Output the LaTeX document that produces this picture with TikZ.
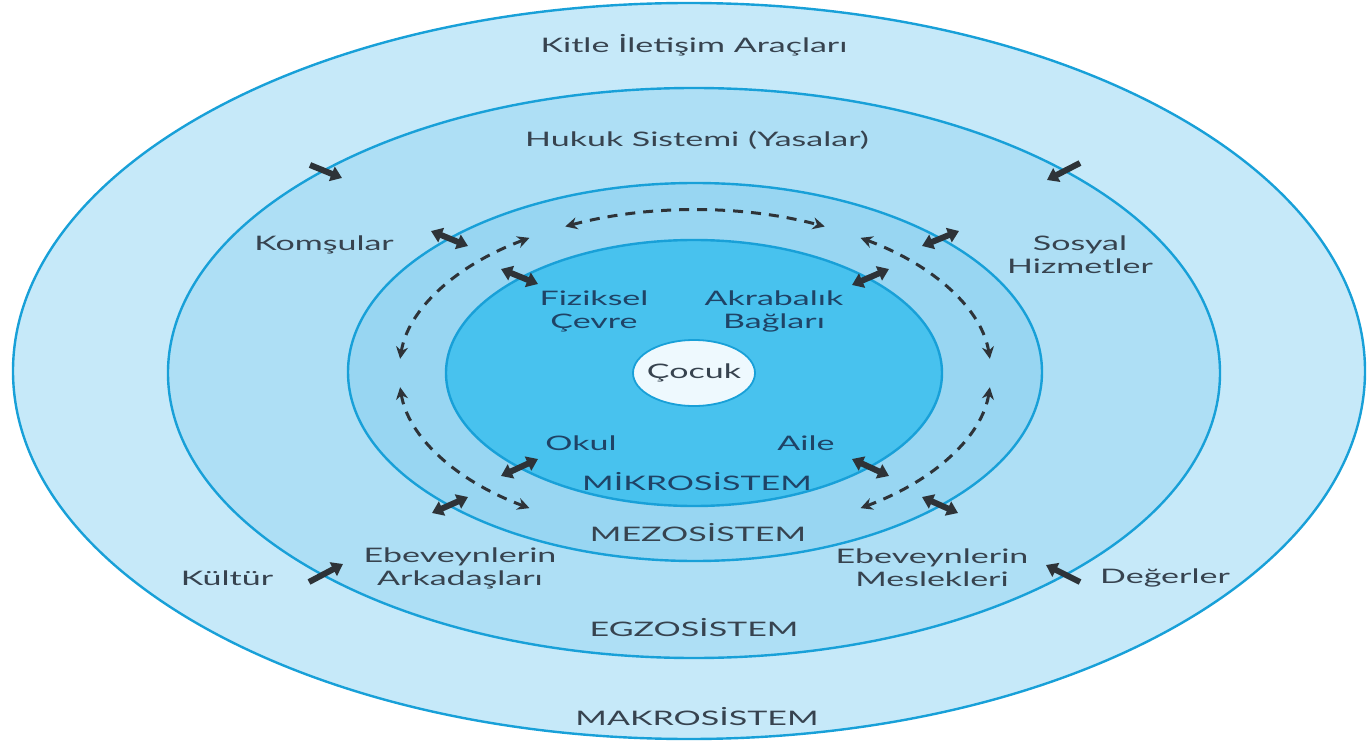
\documentclass[tikz,border=0pt]{standalone}
\usepackage{fontspec}
\setmainfont{Lato}[FakeStretch=1.7]
\usetikzlibrary{arrows.meta}
\definecolor{ringMacro}{HTML}{C6E9F9}
\definecolor{ringExo}{HTML}{AEDFF5}
\definecolor{ringMeso}{HTML}{98D6F2}
\definecolor{ringMicro}{HTML}{48C2EE}
\definecolor{childFill}{HTML}{EEF9FE}
\definecolor{edge}{HTML}{18A0D8}
\definecolor{txt}{HTML}{37434F}
\definecolor{txtin}{HTML}{1F4366}
\definecolor{arr}{HTML}{2E3338}
\begin{document}
\begin{tikzpicture}[x=1pt,y=1pt,
  ring/.style={draw=edge, line width=2.4pt},
  lbl/.style={text=txt, font=\fontsize{20}{23}\selectfont, align=center, inner sep=0pt},
  ilbl/.style={lbl, text=txtin},
  inarrow/.style={line width=6pt, draw=arr, -{Triangle[length=11pt,width=15pt]}},
  twoway/.style={line width=6pt, draw=arr, {Triangle[length=11pt,width=15pt]}-{Triangle[length=11pt,width=15pt]}},
  dasharc/.style={line width=3pt, draw=arr, dash pattern=on 10pt off 8pt, {Stealth[length=12pt,width=12pt]}-{Stealth[length=12pt,width=12pt]}}
]
\useasboundingbox (0,0) rectangle (1369,-741);
\fill[white] (0,0) rectangle (1369,-741);

% rings
\filldraw[ring, fill=ringMacro] (689,-371) ellipse[x radius=676, y radius=368];
\filldraw[ring, fill=ringExo] (694,-373) ellipse[x radius=526, y radius=285];
\filldraw[ring, fill=ringMeso] (695,-372) ellipse[x radius=347, y radius=189];
\filldraw[ring, fill=ringMicro] (694,-373) ellipse[x radius=248, y radius=133];
\filldraw[draw=edge, line width=1.8pt, fill=childFill] (694,-373) ellipse[x radius=61, y radius=33];

% labels
\node[lbl] (kitle) at (694,-45) {Kitle İletişim Araçları};
\node[lbl] (hukuk) at (697,-140) {Hukuk Sistemi (Yasalar)};
\node[lbl] (komsu) at (324,-245) {Komşular};
\node[lbl] (sosyal) at (1080,-255) {Sosyal\\Hizmetler};
\node[ilbl] (fiziksel) at (594,-311) {Fiziksel\\Çevre};
\node[ilbl] (akraba) at (774,-311) {Akrabalık\\Bağları};
\node[lbl] (cocuk) at (694,-373) {Çocuk};
\node[ilbl] (okul) at (581,-443) {Okul};
\node[ilbl] (aile) at (806,-443) {Aile};
\node[ilbl] (mikro) at (697,-482) {MİKROSİSTEM};
\node[lbl] (mezo) at (698,-533) {MEZOSİSTEM};
\node[lbl] (arkadas) at (460,-568) {Ebeveynlerin\\Arkadaşları};
\node[lbl] (meslek) at (932,-568) {Ebeveynlerin\\Meslekleri};
\node[lbl] (kultur) at (227,-578) {Kültür};
\node[lbl] (deger) at (1165,-578) {Değerler};
\node[lbl] (egzo) at (694,-628) {EGZOSİSTEM};
\node[lbl] (makro) at (697,-717) {MAKROSİSTEM};

% one-way arrows from macro to exo
\coordinate (a1s) at (310,-165); \coordinate (a1e) at (342,-178);
\coordinate (a2s) at (1080,-163); \coordinate (a2e) at (1047,-180);
\coordinate (a3s) at (309,-582); \coordinate (a3e) at (343,-564);
\coordinate (a4s) at (1080,-582); \coordinate (a4e) at (1046,-565);
\draw[inarrow] (a1s) -- (a1e);
\draw[inarrow] (a2s) -- (a2e);
\draw[inarrow] (a3s) -- (a3e);
\draw[inarrow] (a4s) -- (a4e);

% two-way arrows
\coordinate (b1s) at (431,-231); \coordinate (b1e) at (468,-246);
\coordinate (b2s) at (501,-269); \coordinate (b2e) at (538,-284);
\coordinate (b3s) at (959,-231); \coordinate (b3e) at (922,-246);
\coordinate (b4s) at (889,-269); \coordinate (b4e) at (852,-285);
\coordinate (b5s) at (432,-513); \coordinate (b5e) at (468,-497);
\coordinate (b6s) at (501,-476); \coordinate (b6e) at (538,-459);
\coordinate (b7s) at (958,-513); \coordinate (b7e) at (922,-497);
\coordinate (b8s) at (889,-476); \coordinate (b8e) at (852,-459);
\draw[twoway] (b1s) -- (b1e);
\draw[twoway] (b2s) -- (b2e);
\draw[twoway] (b3s) -- (b3e);
\draw[twoway] (b4s) -- (b4e);
\draw[twoway] (b5s) -- (b5e);
\draw[twoway] (b6s) -- (b6e);
\draw[twoway] (b7s) -- (b7e);
\draw[twoway] (b8s) -- (b8e);

% dashed arcs in the mesosystem
\coordinate (ctr) at (695,-373);
\draw[dasharc] (ctr) ++(116:296 and 163) arc[start angle=116, end angle=64, x radius=296, y radius=163];
\draw[dasharc] (ctr) ++(124:296 and 163) arc[start angle=124, end angle=175, x radius=296, y radius=163];
\draw[dasharc] (ctr) ++(185:296 and 163) arc[start angle=185, end angle=236, x radius=296, y radius=163];
\draw[dasharc] (ctr) ++(56:296 and 163) arc[start angle=56, end angle=5, x radius=296, y radius=163];
\draw[dasharc] (ctr) ++(-5:296 and 163) arc[start angle=-5, end angle=-56, x radius=296, y radius=163];
\end{tikzpicture}
\end{document}
